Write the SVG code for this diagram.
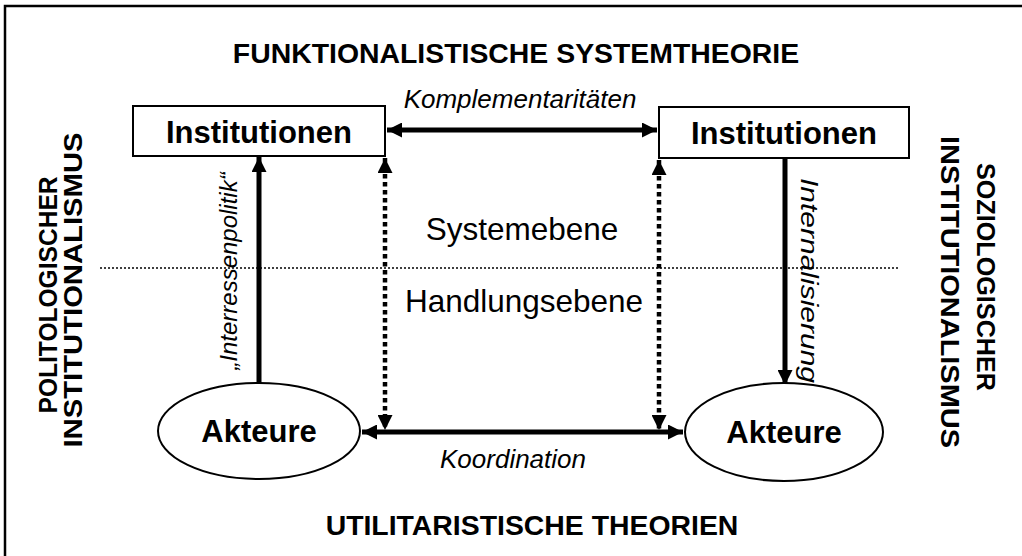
<svg xmlns="http://www.w3.org/2000/svg" width="1022" height="556" viewBox="0 0 1022 556">
  <style>
    .frame { fill: none; stroke: #000; stroke-width: 2.5; }
    .box { fill: #fff; stroke: #000; stroke-width: 2; }
    .head { font-family: "Liberation Sans", Arial, sans-serif; font-weight: bold; font-size: 28.4px; fill: #000; }
    .side { font-family: "Liberation Sans", Arial, sans-serif; font-weight: bold; font-size: 26px; fill: #000; }
    .node { font-family: "Liberation Sans", Arial, sans-serif; font-weight: bold; font-size: 31px; fill: #000; text-anchor: middle; }
    .level { font-family: "Liberation Sans", Arial, sans-serif; font-size: 31.5px; fill: #000; text-anchor: middle; }
    .lbl { font-family: "Liberation Sans", Arial, sans-serif; font-style: italic; font-size: 26px; fill: #000; }
    .lblv { font-family: "Liberation Sans", Arial, sans-serif; font-style: italic; font-size: 24px; fill: #000; }
    .solid { fill: none; stroke: #000; stroke-width: 5; }
    .dots { fill: none; stroke: #000; stroke-width: 4.5; stroke-dasharray: 4.5 3.5; }
    .divider { fill: none; stroke: #000; stroke-width: 1.5; stroke-dasharray: 2 2; }
  </style>
  <defs>
    <marker id="ah" viewBox="0 0 10 10" refX="10" refY="5" markerWidth="15" markerHeight="15" markerUnits="userSpaceOnUse" orient="auto-start-reverse">
      <path d="M0,0 L10,5 L0,10 z" fill="#000"/>
    </marker>
  </defs>

  <!-- outer frame -->
  <path class="frame" d="M5,556 V6 H1022"/>

  <!-- level divider -->
  <line class="divider" x1="100" y1="268" x2="900" y2="268"/>

  <!-- theory headings -->
  <text class="head" x="516" y="63" text-anchor="middle">FUNKTIONALISTISCHE SYSTEMTHEORIE</text>
  <text class="head" x="532" y="535" text-anchor="middle">UTILITARISTISCHE THEORIEN</text>
  <text class="side" transform="translate(57,295) rotate(-90)" text-anchor="middle" textLength="237" lengthAdjust="spacingAndGlyphs">POLITOLOGISCHER</text>
  <text class="side" transform="translate(82,290) rotate(-90)" text-anchor="middle" textLength="315" lengthAdjust="spacingAndGlyphs">INSTITUTIONALISMUS</text>
  <text class="side" transform="translate(977,277) rotate(90)" text-anchor="middle" textLength="228" lengthAdjust="spacingAndGlyphs">SOZIOLOGISCHER</text>
  <text class="side" transform="translate(941,292) rotate(90)" text-anchor="middle" textLength="312" lengthAdjust="spacingAndGlyphs">INSTITUTIONALISMUS</text>

  <!-- level labels -->
  <text class="level" x="522" y="240">Systemebene</text>
  <text class="level" x="524" y="312">Handlungsebene</text>

  <!-- connectors -->
  <g id="connectors">
    <line class="solid" x1="387" y1="130" x2="657" y2="130" marker-start="url(#ah)" marker-end="url(#ah)"/>
    <line class="solid" x1="362" y1="432" x2="683" y2="432" marker-start="url(#ah)" marker-end="url(#ah)"/>
    <line class="solid" x1="259" y1="384" x2="259" y2="157" marker-end="url(#ah)"/>
    <line class="solid" x1="785" y1="159" x2="785" y2="385" marker-end="url(#ah)"/>
    <line class="dots" x1="385" y1="158" x2="385" y2="430" marker-start="url(#ah)" marker-end="url(#ah)"/>
    <line class="dots" x1="659" y1="160" x2="659" y2="430" marker-start="url(#ah)" marker-end="url(#ah)"/>
    <text class="lbl" x="520" y="108" text-anchor="middle">Komplementaritäten</text>
    <text class="lbl" x="513" y="468" text-anchor="middle">Koordination</text>
    <text class="lblv" transform="translate(237,271) rotate(-90)" text-anchor="middle">„Interressenpolitik“</text>
    <text class="lblv" transform="translate(801,178) rotate(90)" textLength="205" lengthAdjust="spacingAndGlyphs">Internalisierung</text>
  </g>

  <!-- nodes -->
  <g id="inst-left">
    <rect class="box" x="133" y="106" width="252" height="50"/>
    <text class="node" x="259" y="143">Institutionen</text>
  </g>
  <g id="inst-right">
    <rect class="box" x="659" y="107" width="250" height="51"/>
    <text class="node" x="784" y="144">Institutionen</text>
  </g>
  <g id="akteure-left">
    <ellipse class="box" cx="259" cy="431" rx="101" ry="48"/>
    <text class="node" x="259" y="442">Akteure</text>
  </g>
  <g id="akteure-right">
    <ellipse class="box" cx="784" cy="432" rx="99" ry="49"/>
    <text class="node" x="784" y="443">Akteure</text>
  </g>
</svg>
